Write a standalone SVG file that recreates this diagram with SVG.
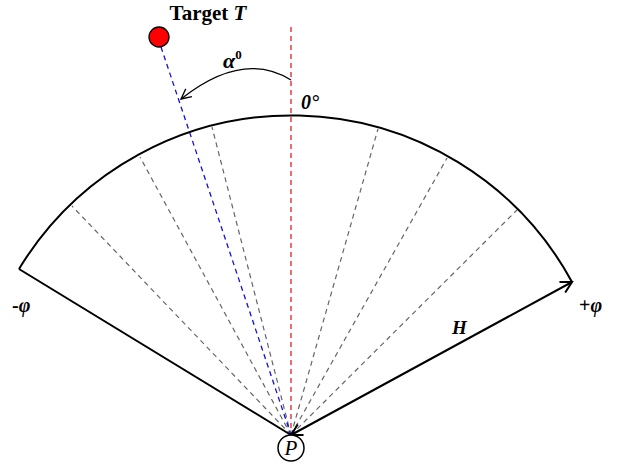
<svg xmlns="http://www.w3.org/2000/svg" width="618" height="468" viewBox="0 0 618 468">
<style>
.t{font-family:"Liberation Serif","Times New Roman",serif;font-weight:bold;fill:#000}
.g{stroke:#666;stroke-width:1.2;stroke-dasharray:5,4;fill:none}
.k{stroke:#000;stroke-width:2;fill:none}
</style>
<defs>
<marker id="ah" markerWidth="14" markerHeight="14" refX="12" refY="7" orient="auto-start-reverse" markerUnits="userSpaceOnUse">
<path d="M1,1 L12,7 L1,13" fill="none" stroke="#000" stroke-width="2"/>
</marker>
<marker id="ah2" markerWidth="14" markerHeight="14" refX="12" refY="7" orient="auto" markerUnits="userSpaceOnUse">
<path d="M2,2 L12,7 L2,12" fill="none" stroke="#000" stroke-width="1.3"/>
</marker>
</defs>
<g id="connectors">
<line class="g" x1="291" y1="435" x2="72" y2="206"/>
<line class="g" x1="291" y1="435" x2="140" y2="157"/>
<line class="g" x1="291" y1="435" x2="212" y2="127"/>
<line class="g" x1="291" y1="435" x2="378" y2="129"/>
<line class="g" x1="291" y1="435" x2="447" y2="158"/>
<line class="g" x1="291" y1="435" x2="517" y2="210"/>
<line x1="291" y1="27" x2="291" y2="435" stroke="#e02020" stroke-width="1.3" stroke-dasharray="5,4"/>
<line x1="161" y1="47" x2="291" y2="435" stroke="#1010e0" stroke-width="1.3" stroke-dasharray="5,4"/>
<path class="k" d="M19,269 A319,319 0 0 1 572,282"/>
<line class="k" x1="19" y1="269" x2="291" y2="435"/>
<line class="k" x1="291" y1="435" x2="572" y2="282" marker-start="url(#ah)" marker-end="url(#ah)"/>
<path d="M291,80 Q243,50 181,99" fill="none" stroke="#000" stroke-width="1.3" marker-end="url(#ah2)"/>
</g>
<g id="target">
<circle cx="159" cy="37" r="10" fill="#ff0000" stroke="#000" stroke-width="1.3"/>
<text class="t" x="208" y="20" font-size="21" text-anchor="middle">Target <tspan font-style="italic">T</tspan></text>
</g>
<g id="P">
<circle cx="291" cy="448" r="13" fill="#fff" stroke="#000" stroke-width="1.5"/>
<text x="291" y="455" font-size="21" font-style="italic" text-anchor="middle" font-family="Liberation Serif, serif">P</text>
</g>
<g id="labels">
<text class="t" x="223" y="68" font-size="22" font-style="italic">α<tspan font-size="13" dy="-9" font-style="normal">0</tspan></text>
<text class="t" x="301" y="109" font-size="20" font-style="italic">0°</text>
<text class="t" x="12" y="312" font-size="20">-<tspan font-style="italic">φ</tspan></text>
<text class="t" x="579" y="312" font-size="20">+<tspan font-style="italic">φ</tspan></text>
<text class="t" x="452" y="334" font-size="19" font-style="italic">H</text>
</g>
</svg>
